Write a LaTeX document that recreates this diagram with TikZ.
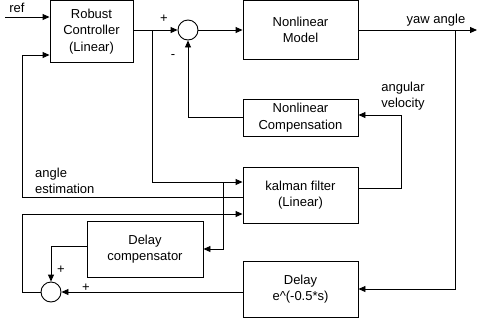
\documentclass[tikz,border=0pt]{standalone}
\usepackage{fontspec}
\setmainfont{Liberation Sans}
\usetikzlibrary{arrows.meta,calc}
\begin{document}
\begin{tikzpicture}[x=1pt,y=-1pt,
  every node/.style={font=\fontsize{13}{16.5}\selectfont},
  blk/.style={draw,line width=0.9pt,align=center,inner sep=0pt},
  sumc/.style={draw,circle,line width=0.9pt,minimum size=20pt,inner sep=0pt},
  wire/.style={line width=0.9pt},
  arr/.style={wire,-{Triangle[length=7pt,width=6pt]}},
  lbl/.style={inner sep=0pt,align=left}]
\useasboundingbox (0,0) rectangle (477,322);
% blocks
\node[blk,minimum width=83pt,minimum height=62pt] (ctrl) at (91.5,31.5) {Robust\\Controller\\(Linear)};
\node[blk,minimum width=115pt,minimum height=59pt] (model) at (300.5,30) {Nonlinear\\Model};
\node[blk,minimum width=115pt,minimum height=37pt] (comp) at (300.5,117.5) {Nonlinear\\Compensation};
\node[blk,minimum width=115pt,minimum height=56pt] (kal) at (300.5,195) {kalman filter\\(Linear)};
\node[blk,minimum width=116pt,minimum height=56pt] (dcomp) at (145,249) {Delay\\compensator};
\node[blk,minimum width=115pt,minimum height=56pt] (delay) at (300.5,289) {Delay\\e\^{}(-0.5*s)};
\node[sumc] (s1) at (188,30) {};
\node[sumc] (s2) at (51,292) {};
% coordinates
\coordinate (refin) at (5,17);
\coordinate (b1) at (152,30);
\coordinate (b2) at (223,182);
\coordinate (b3) at (455,30);
\coordinate (yout) at (477,30);
\coordinate (av) at (401,115);
\coordinate (ae) at (22,197);
\coordinate (fb) at (22,214);
\coordinate (dc) at (51,246);
% connectors
\draw[arr] (refin) -- (refin -| ctrl.west);
\draw[arr] (ctrl.east |- s1) -- (s1.west);
\draw[arr] (b1) |- (kal.west |- b2);
\draw[arr] (b2) |- (dcomp.east);
\draw[arr] (s1.east) -- (model.west);
\draw[arr] (model.east) -- (yout);
\draw[arr] (b3) |- (delay.east);
\draw[arr] (kal.east |- 0,188) -| (av) -- (av -| comp.east);
\draw[arr] (comp.west |- 0,117) -| (s1.south);
\draw[arr] (kal.west |- ae) -| (ae |- 0,55) -- (ctrl.west |- 0,55);
\draw[arr] (s2.west) -| (fb) -- (fb -| kal.west);
\draw[arr] (dcomp.west |- dc) -| (s2.north);
\draw[arr] (delay.west |- s2) -- (s2.east);
% labels
\node[lbl] (lref) at (17,8) {ref};
\node[lbl] (lyaw) at (436,20) {yaw angle};
\node[lbl] (lav) at (403,96) {angular\\velocity};
\node[lbl,anchor=west] (lae) at (35,181) {angle\\estimation};
\node[lbl] (p1) at (164,19) {+};
\node[lbl] (m1) at (173,57) {-};
\node[lbl] (p2) at (61,270) {+};
\node[lbl] (p3) at (86,288) {+};
\end{tikzpicture}
\end{document}
